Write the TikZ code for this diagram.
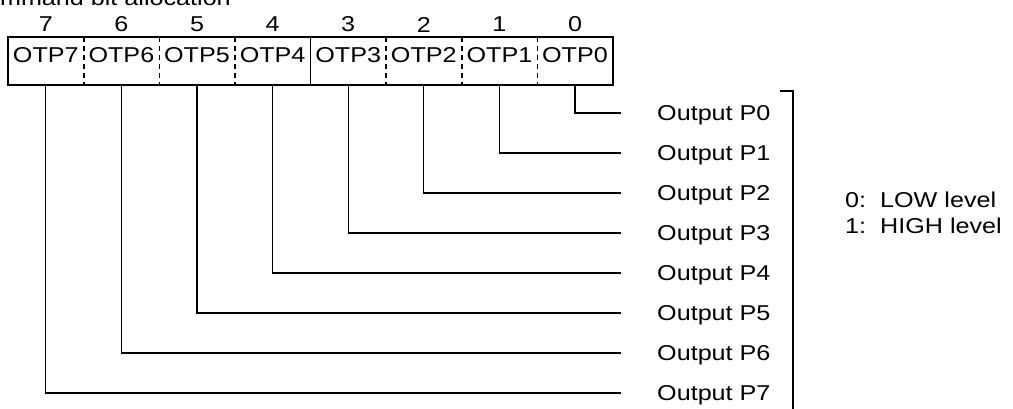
\documentclass[tikz,border=0pt]{standalone}
\usepackage{fontspec}
\setmainfont[FakeStretch=1.17]{Liberation Sans}

\begin{document}
\begin{tikzpicture}[x=1bp,y=-1bp,node distance=75.6bp,
    font=\fontsize{21.5bp}{26bp}\selectfont,
    cell/.style={minimum width=75.6bp,minimum height=48bp,inner sep=0pt,
      text height=15.5bp,text depth=12bp},
    bitno/.style={node distance=36.5bp,inner sep=0pt},
    outlbl/.style={anchor=west,inner sep=0pt,text depth=0pt},
    wire/.style={line width=1.2bp,shorten >=36bp},
    sep/.style={line width=1.6bp,dash pattern=on 5bp off 4bp}]

  \useasboundingbox (0,0) rectangle (1013,408);

  \node[anchor=base east,inner sep=0pt] (title) at (231,5) {Command bit allocation};

  % register cells, bit 7 on the left
  \node[cell] (c7) at (45.8,61) {OTP7};
  \node[cell] (c6) [right of=c7] {OTP6};
  \node[cell] (c5) [right of=c6] {OTP5};
  \node[cell] (c4) [right of=c5] {OTP4};
  \node[cell] (c3) [right of=c4] {OTP3};
  \node[cell] (c2) [right of=c3] {OTP2};
  \node[cell] (c1) [right of=c2] {OTP1};
  \node[cell] (c0) [right of=c1] {OTP0};

  \draw[line width=2bp] (c7.north west) rectangle (c0.south east);
  \draw[line width=1.6bp] (c4.north east) -- (c4.south east);
  \draw[sep] (c7.north east) -- (c7.south east);
  \draw[sep] (c6.north east) -- (c6.south east);
  \draw[sep] (c5.north east) -- (c5.south east);
  \draw[sep] (c3.north east) -- (c3.south east);
  \draw[sep] (c2.north east) -- (c2.south east);
  \draw[sep] (c1.north east) -- (c1.south east);

  % bit numbers
  \node[bitno] (b7) [above of=c7] {7};
  \node[bitno] (b6) [above of=c6] {6};
  \node[bitno] (b5) [above of=c5] {5};
  \node[bitno] (b4) [above of=c4] {4};
  \node[bitno] (b3) [above of=c3] {3};
  \node[bitno] (b2) [above of=c2] {2};
  \node[bitno] (b1) [above of=c1] {1};
  \node[bitno] (b0) [above of=c0] {0};

  % port outputs
  \node[outlbl] (p0) at (657,113) {Output P0};
  \node[outlbl] (p1) [below of=p0, node distance=40bp] {Output P1};
  \node[outlbl] (p2) [below of=p1, node distance=40bp] {Output P2};
  \node[outlbl] (p3) [below of=p2, node distance=40bp] {Output P3};
  \node[outlbl] (p4) [below of=p3, node distance=40bp] {Output P4};
  \node[outlbl] (p5) [below of=p4, node distance=40bp] {Output P5};
  \node[outlbl] (p6) [below of=p5, node distance=40bp] {Output P6};
  \node[outlbl] (p7) [below of=p6, node distance=40bp] {Output P7};

  \draw[wire] (c0.south) |- (p0.west);
  \draw[wire] (c1.south) |- (p1.west);
  \draw[wire] (c2.south) |- (p2.west);
  \draw[wire] (c3.south) |- (p3.west);
  \draw[wire] (c4.south) |- (p4.west);
  \draw[wire] (c5.south) |- (p5.west);
  \draw[wire] (c6.south) |- (p6.west);
  \draw[wire] (c7.south) |- (p7.west);

  % bracket and level key
  \coordinate (brtop) at (780,91);
  \coordinate (brbot) at (793,420);
  \draw[line width=1.2bp] (brtop) -| (brbot);

  \node[outlbl] (lo) at (845,200) {0:\ \ LOW level};
  \node[outlbl] (hi) at (845,226) {1:\ \ HIGH level};
\end{tikzpicture}
\end{document}
